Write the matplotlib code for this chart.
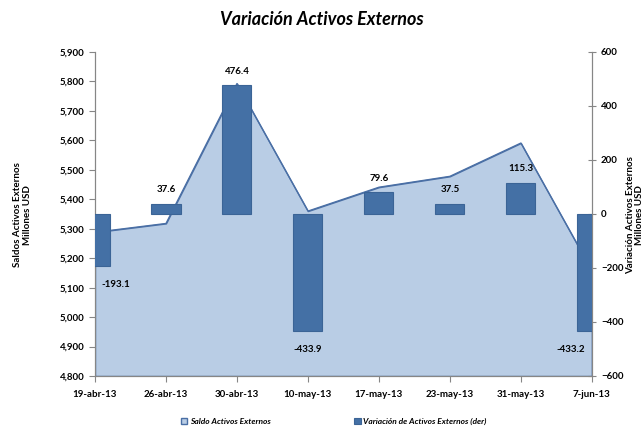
import matplotlib.pyplot as plt
import numpy as np

plt.rcParams['font.family'] = ['Lato', 'DejaVu Sans']

# Datos
fechas = ['19-abr-13', '26-abr-13', '30-abr-13', '10-may-13',
          '17-may-13', '23-may-13', '31-may-13', '7-jun-13']
saldo = [5288, 5318, 5793, 5360, 5441, 5478, 5591, 5158]
variacion = [-193.1, 37.6, 476.4, -433.9, 79.6, 37.5, 115.3, -433.2]

x = np.arange(len(fechas))
gris = '#868686'

fig = plt.figure(figsize=(6.44, 4.3), dpi=100)
ax = fig.add_axes([0.1475, 0.1256, 0.7715, 0.7535])

# Area del saldo (eje izquierdo)
ax.fill_between(x, saldo, 4800, color='#B9CDE5', zorder=1,
                label='Saldo Activos Externos')
ax.plot(x, saldo, color='#4A6FA5', lw=0.9, zorder=2)
ax.set_xlim(0, 7)
ax.set_ylim(4800, 5900)
ax.set_yticks(np.arange(4800, 5901, 100))
ax.set_yticklabels([f'{v:,}' for v in range(4800, 5901, 100)])
ax.set_xticks(x)
ax.set_xticklabels(fechas)

# Barras de variacion (eje derecho)
ax2 = ax.twinx()
ax2.bar(x, variacion, width=0.41, color='#4470A5', edgecolor='#3B6496',
        lw=0.8, zorder=3, label='Variación de Activos Externos (der)')
ax2.set_ylim(-600, 600)
ax2.set_yticks(np.arange(-600, 601, 200))
ax.set_zorder(ax2.get_zorder() - 1)
ax2.patch.set_visible(False)
ax.patch.set_visible(False)

# Etiquetas de las barras (las de los extremos se corren hacia adentro)
for i, v in enumerate(variacion):
    dy = 10 if v > 0 else -13
    dx = 0
    if i == 0:
        dx = 15
    elif i == len(variacion) - 1:
        dx = -15
    ax2.annotate(f'{v:.1f}', (x[i], v), xytext=(dx, dy), textcoords='offset points',
                 ha='center', va='center', fontsize=7, fontweight='bold')

for a in (ax, ax2):
    a.spines['top'].set_visible(False)
    for s in ('left', 'right', 'bottom'):
        a.spines[s].set_color(gris)
    a.tick_params(colors=gris, labelcolor='black', labelsize=7, length=4, width=0.8)
    for lab in a.get_yticklabels() + a.get_xticklabels():
        lab.set_fontweight('bold')
ax2.tick_params(axis='y', direction='inout', length=6)
ax.tick_params(axis='x', pad=6)

fig.text(0.5, 0.955, 'Variación Activos Externos', ha='center', va='center',
         fontsize=13, fontweight='bold', fontstyle='italic')
fig.text(0.035, 0.5, 'Saldos Activos Externos\nMillones USD', rotation=90,
         ha='center', va='center', fontsize=7, fontweight='bold')
fig.text(0.986, 0.5, 'Variación Activos Externos\nMillones USD', rotation=90,
         ha='center', va='center', fontsize=7, fontweight='bold', linespacing=1.0)

h1, l1 = ax.get_legend_handles_labels()
h2, l2 = ax2.get_legend_handles_labels()
h1[0].set_edgecolor('#4A6FA5')
leg = fig.legend(h1 + h2, l1 + l2, loc='center', bbox_to_anchor=(0.518, 0.02),
                 ncol=2, frameon=False, columnspacing=10, handlelength=0.8,
                 handleheight=0.8, handletextpad=0.3,
                 prop={'size': 6, 'weight': 'bold', 'style': 'italic'})

fig.savefig('out.png', dpi=100)
